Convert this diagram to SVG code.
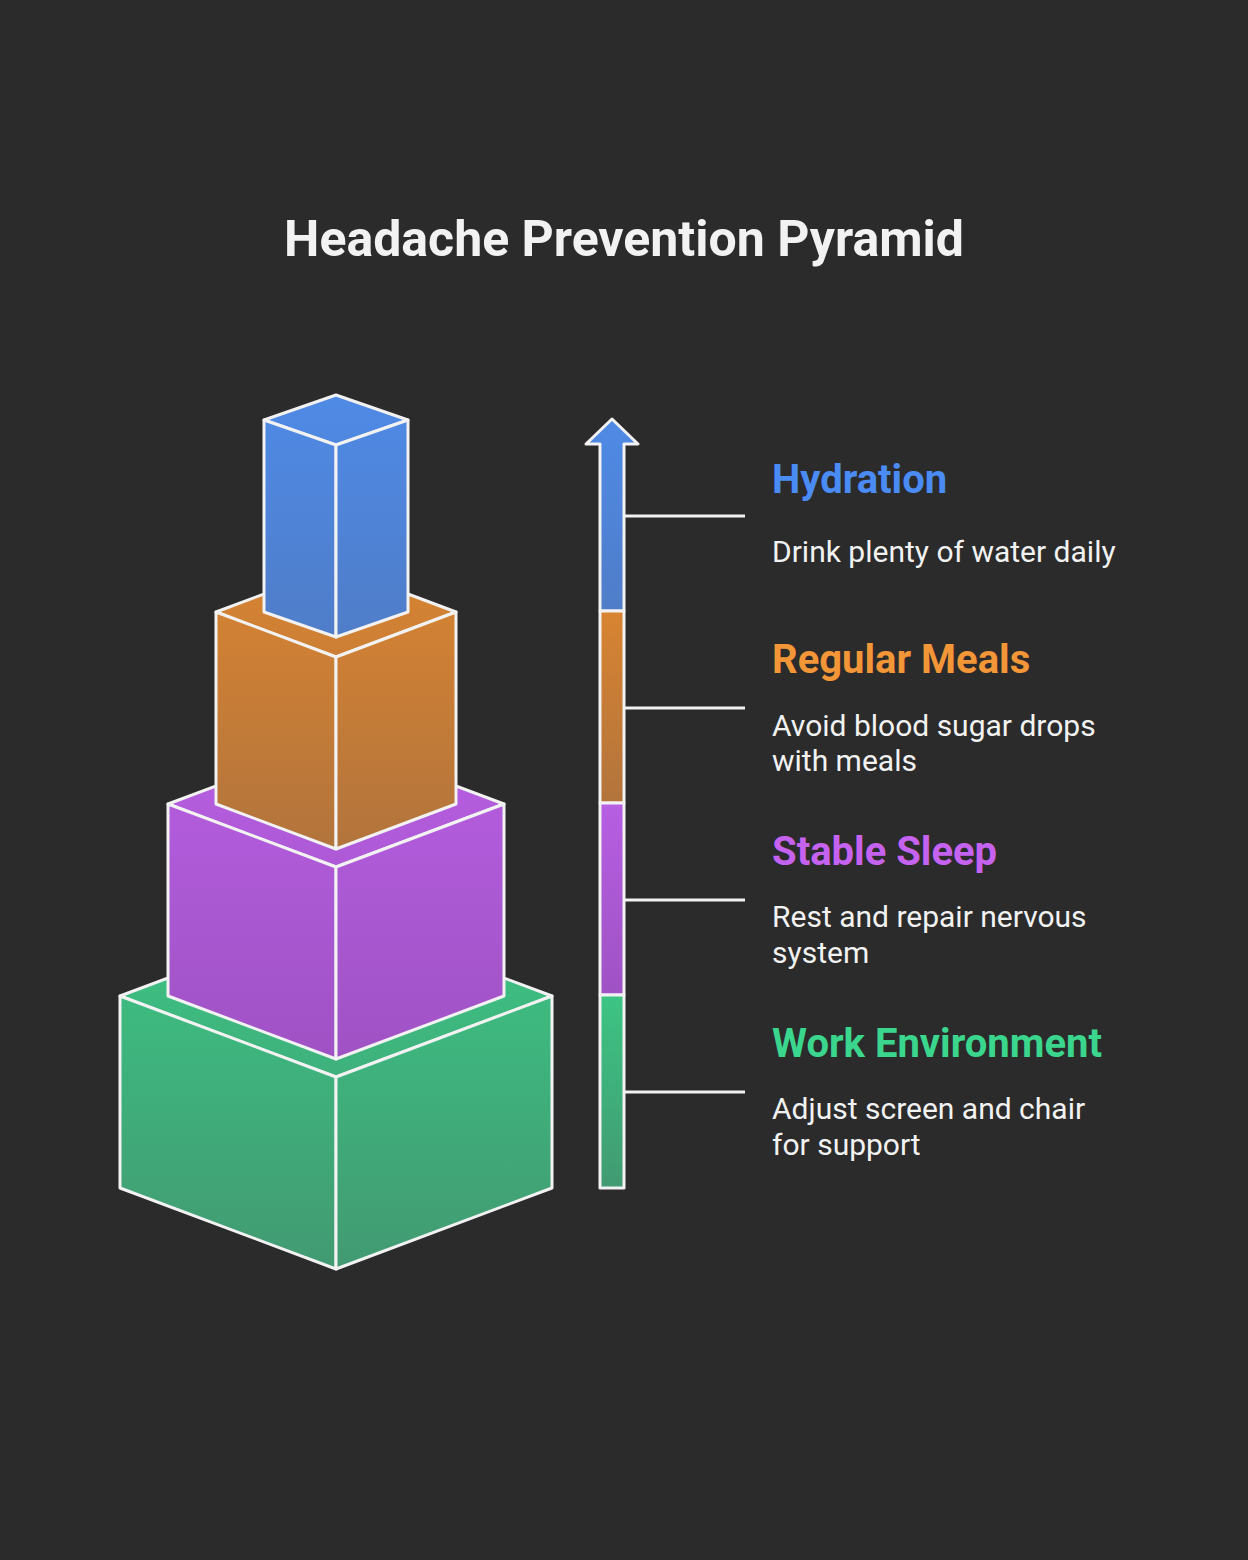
<svg xmlns="http://www.w3.org/2000/svg" width="1248" height="1560" viewBox="0 0 1248 1560">
<defs>
<style>
.face{stroke:#f2f2f2;stroke-width:3;stroke-linejoin:round}
.conn{stroke:#f2f2f2;stroke-width:3;fill:none}
.title{font-family:Roboto,"Liberation Sans",sans-serif;font-weight:700;font-size:50px;fill:#f2f2f2}
.lbl{font-family:Roboto,"Liberation Sans",sans-serif;font-weight:700;font-size:40px}
.desc{font-family:Roboto,"Liberation Sans",sans-serif;font-weight:400;font-size:30px;fill:#f2f2f2}
</style>
<linearGradient id="gBlue" gradientUnits="userSpaceOnUse" x1="0" y1="395" x2="0" y2="637"><stop offset="0" stop-color="#4f8ae6"/><stop offset="1" stop-color="#4f7dc8"/></linearGradient>
<linearGradient id="gOrange" gradientUnits="userSpaceOnUse" x1="0" y1="567" x2="0" y2="849"><stop offset="0" stop-color="#d88432"/><stop offset="1" stop-color="#b2743c"/></linearGradient>
<linearGradient id="gPurple" gradientUnits="userSpaceOnUse" x1="0" y1="741" x2="0" y2="1059"><stop offset="0" stop-color="#b75ee2"/><stop offset="1" stop-color="#9f52c4"/></linearGradient>
<linearGradient id="gGreen" gradientUnits="userSpaceOnUse" x1="0" y1="915" x2="0" y2="1269"><stop offset="0" stop-color="#3cc484"/><stop offset="1" stop-color="#429a72"/></linearGradient>
<linearGradient id="sBlue" gradientUnits="userSpaceOnUse" x1="0" y1="419" x2="0" y2="611"><stop offset="0" stop-color="#4f8ae6"/><stop offset="1" stop-color="#4f7dc8"/></linearGradient>
<linearGradient id="sOrange" gradientUnits="userSpaceOnUse" x1="0" y1="611" x2="0" y2="803"><stop offset="0" stop-color="#d88432"/><stop offset="1" stop-color="#b2743c"/></linearGradient>
<linearGradient id="sPurple" gradientUnits="userSpaceOnUse" x1="0" y1="803" x2="0" y2="995"><stop offset="0" stop-color="#b75ee2"/><stop offset="1" stop-color="#9f52c4"/></linearGradient>
<linearGradient id="sGreen" gradientUnits="userSpaceOnUse" x1="0" y1="995" x2="0" y2="1188"><stop offset="0" stop-color="#3cc484"/><stop offset="1" stop-color="#429a72"/></linearGradient>
</defs>
<rect width="1248" height="1560" fill="#2b2b2b"/>
<text class="title" x="624" y="256" text-anchor="middle">Headache Prevention Pyramid</text>

<g id="block-work-environment" fill="url(#gGreen)">
<polygon class="face" points="120,996 336,915 552,996 336,1077"/>
<polygon class="face" points="120,996 336,1077 336,1269 120,1188"/>
<polygon class="face" points="336,1077 552,996 552,1188 336,1269"/>
</g>
<g id="block-stable-sleep" fill="url(#gPurple)">
<polygon class="face" points="168,804 336,741 504,804 336,867"/>
<polygon class="face" points="168,804 336,867 336,1059 168,996"/>
<polygon class="face" points="336,867 504,804 504,996 336,1059"/>
</g>
<g id="block-regular-meals" fill="url(#gOrange)">
<polygon class="face" points="216,612 336,567 456,612 336,657"/>
<polygon class="face" points="216,612 336,657 336,849 216,804"/>
<polygon class="face" points="336,657 456,612 456,804 336,849"/>
</g>
<g id="block-hydration" fill="url(#gBlue)">
<polygon class="face" points="264,420 336,395 408,420 336,445"/>
<polygon class="face" points="264,420 336,445 336,637 264,612"/>
<polygon class="face" points="336,445 408,420 408,612 336,637"/>
</g>

<g id="scale-arrow">
<path class="face" fill="url(#sBlue)" d="M600,611 V444 H586 L612,419 L638,444 H624 V611 Z"/>
<rect class="face" x="600" y="611" width="24" height="192" fill="url(#sOrange)"/>
<rect class="face" x="600" y="803" width="24" height="192" fill="url(#sPurple)"/>
<rect class="face" x="600" y="995" width="24" height="193" fill="url(#sGreen)"/>
</g>

<g id="connectors">
<line class="conn" x1="624" y1="516" x2="745" y2="516"/>
<line class="conn" x1="624" y1="708" x2="745" y2="708"/>
<line class="conn" x1="624" y1="900" x2="745" y2="900"/>
<line class="conn" x1="624" y1="1092" x2="745" y2="1092"/>
</g>

<g id="label-hydration">
<text class="lbl" x="772" y="493" fill="#4a8bf4">Hydration</text>
<text class="desc" x="772" y="562">Drink plenty of water daily</text>
</g>
<g id="label-regular-meals">
<text class="lbl" x="772" y="673" fill="#f39638">Regular Meals</text>
<text class="desc" x="772" y="736">Avoid blood sugar drops</text>
<text class="desc" x="772" y="771">with meals</text>
</g>
<g id="label-stable-sleep">
<text class="lbl" x="772" y="865" fill="#c662f0">Stable Sleep</text>
<text class="desc" x="772" y="927">Rest and repair nervous</text>
<text class="desc" x="772" y="963">system</text>
</g>
<g id="label-work-environment">
<text class="lbl" x="772" y="1057" fill="#3bd68e">Work Environment</text>
<text class="desc" x="772" y="1119">Adjust screen and chair</text>
<text class="desc" x="772" y="1155">for support</text>
</g>
</svg>
